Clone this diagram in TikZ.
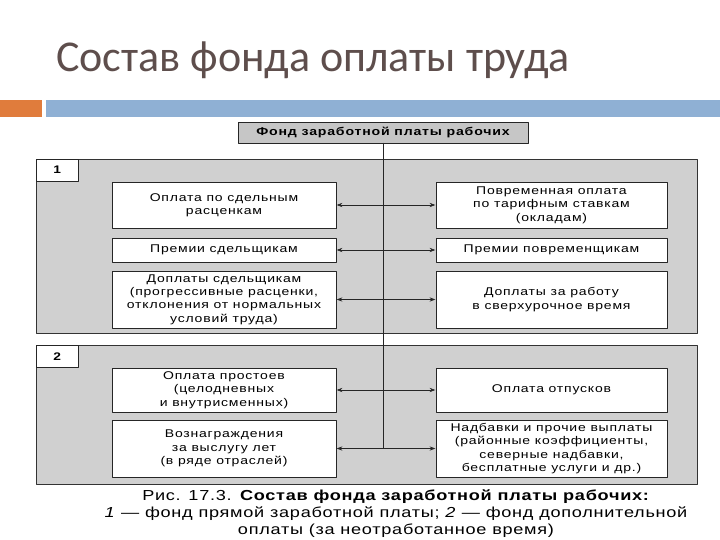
\documentclass[tikz,border=0pt]{standalone}
\usepackage{fontspec}
\setmainfont{Liberation Sans}
\newfontfamily\titlefont{Carlito}
\newfontfamily\boxfont[FakeStretch=1.25,LetterSpace=7]{Liberation Sans}
\newfontfamily\capfont[FakeStretch=1.25,LetterSpace=5]{Liberation Sans}
\usetikzlibrary{arrows.meta,calc,positioning}
\definecolor{titlegray}{RGB}{94,78,76}
\definecolor{baraccent}{RGB}{224,124,60}
\definecolor{barblue}{RGB}{143,176,212}
\definecolor{sectiongray}{RGB}{208,208,208}
\definecolor{headgray}{RGB}{198,198,198}

\begin{document}
\begin{tikzpicture}[x=1pt,y=-1pt,>=Stealth,line cap=round,line join=round,
  box/.style={draw=black!85,fill=white,align=center,inner sep=0pt,
   font=\boxfont\fontsize{11.2}{13.4}\selectfont},
  lbox/.style={box,minimum width=224pt},
  rbox/.style={box,minimum width=231pt},
  numbox/.style={draw=black!85,fill=white,inner sep=0pt,minimum width=42pt,
   minimum height=22pt,anchor=north west,font=\boxfont\bfseries\fontsize{11}{13}\selectfont},
  link/.style={->,black!85,semithick,shorten >=.5pt}]
 \useasboundingbox (0,0) rectangle (720,540);
 \fill[white] (0,0) rectangle (720,540);
 \node[anchor=base west,inner sep=0pt,text=titlegray,
  font=\titlefont\fontsize{44}{50}\selectfont] (title) at (56,72)
  {Состав фонда оплаты труда};
 \fill[baraccent] (0,100) rectangle (42,117);
 \fill[barblue] (46,100) rectangle (720,117);
 \filldraw[fill=sectiongray,draw=black!80] (36,159) rectangle (697,333);
 \filldraw[fill=sectiongray,draw=black!80] (36,345) rectangle (697,484);
 \node[numbox] (n1) at (36,159) {1};
 \node[numbox] (n2) at (36,345) {2};
 \node[box,fill=headgray,minimum width=290pt,minimum height=21pt,
  font=\boxfont\bfseries\fontsize{11.3}{12}\selectfont] (fund) at (383,132.5)
  {Фонд заработной платы рабочих};
 \node[lbox,minimum height=46pt] (l1) at (224,205)
  {Оплата по сдельным\\расценкам};
 \node[lbox,minimum height=24pt] (l2) at (224,250)
  {Премии сдельщикам};
 \node[lbox,minimum height=57pt] (l3) at (224,299.5)
  {Доплаты сдельщикам\\(прогрессивные расценки,\\отклонения от нормальных\\условий труда)};
 \node[lbox,minimum height=44pt] (l4) at (224,390)
  {Оплата простоев\\(целодневных\\и внутрисменных)};
 \node[lbox,minimum height=57pt] (l5) at (224,448.5)
  {Вознаграждения\\за выслугу лет\\(в ряде отраслей)};
 \node[rbox,minimum height=46pt] (r1) at (551.5,205)
  {Повременная оплата\\по тарифным ставкам\\(окладам)};
 \node[rbox,minimum height=24pt] (r2) at (551.5,250)
  {Премии повременщикам};
 \node[rbox,minimum height=57pt] (r3) at (551.5,299.5)
  {Доплаты за работу\\в сверхурочное время};
 \node[rbox,minimum height=44pt] (r4) at (551.5,390)
  {Оплата отпусков};
 \node[rbox,minimum height=57pt] (r5) at (551.5,448.5)
  {Надбавки и прочие выплаты\\(районные коэффициенты,\\северные надбавки,\\бесплатные услуги и др.)};
 \draw[black!85,semithick] (fund.south) -- (fund.south |- r5.west);
 \foreach \row in {1,...,5}{
  \draw[link] (fund.south |- l\row.east) -- (l\row.east);
  \draw[link] (fund.south |- r\row.west) -- (r\row.west);
 }
 \node[align=center,inner sep=0pt,anchor=north,
  font=\capfont\fontsize{14.5}{17}\selectfont] (caption) at (396,490)
  {Рис. 17.3. \textbf{Состав фонда заработной платы рабочих:}\\
   \textit{1} — фонд прямой заработной платы; \textit{2} — фонд дополнительной\\
   оплаты (за неотработанное время)};
\end{tikzpicture}
\end{document}
